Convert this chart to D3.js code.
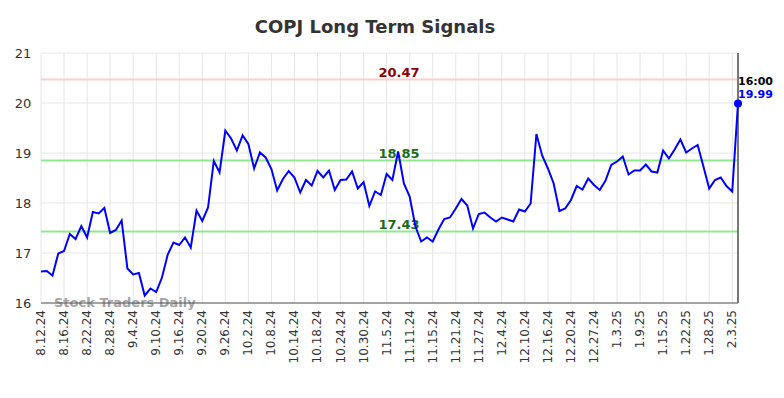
<!DOCTYPE html>
<html>
<head>
<meta charset="utf-8">
<script src="https://cdn.jsdelivr.net/npm/d3@7"></script>
<style>
body { margin: 0; background: #fff; }
svg { font-family: "DejaVu Sans", sans-serif; }
</style>
</head>
<body>
<svg width="784" height="398"></svg>
<script>
let tick_labels = ["8.12.24","8.16.24","8.22.24","8.28.24","9.4.24","9.10.24","9.16.24","9.20.24","9.26.24","10.2.24",
    "10.8.24","10.14.24","10.18.24","10.24.24","10.30.24","11.5.24","11.11.24","11.15.24","11.21.24","11.27.24",
    "12.4.24","12.10.24","12.16.24","12.20.24","12.27.24","1.3.25","1.9.25","1.15.25","1.22.25","1.28.25","2.3.25"]
let tick_step = 4
let prices = [16.63,16.64,16.55,16.99,17.04,17.38,17.28,17.54,17.31,17.82,
    17.79,17.90,17.40,17.46,17.65,16.69,16.57,16.60,16.15,16.29,
    16.22,16.51,16.97,17.21,17.16,17.31,17.11,17.85,17.64,17.91,
    18.84,18.61,19.45,19.29,19.05,19.35,19.18,18.69,19.01,18.91,
    18.68,18.25,18.48,18.64,18.51,18.21,18.46,18.35,18.64,18.51,
    18.65,18.26,18.46,18.47,18.63,18.29,18.42,17.94,18.23,18.16,
    18.58,18.46,19.03,18.39,18.13,17.53,17.23,17.31,17.23,17.47,
    17.68,17.71,17.89,18.08,17.95,17.49,17.78,17.81,17.71,17.63,
    17.71,17.67,17.63,17.87,17.83,17.99,19.38,18.95,18.69,18.39,
    17.84,17.89,18.06,18.34,18.27,18.49,18.36,18.26,18.45,18.76,
    18.83,18.93,18.57,18.65,18.65,18.77,18.63,18.61,19.05,18.89,
    19.07,19.27,19.01,19.09,19.16,18.73,18.29,18.46,18.51,18.34,
    18.23,19.99]
let y_ticks = [16,17,18,19,20,21]
let levels = [
    {value: 20.47, line: "#ffcccc", text: "#8b0000"},
    {value: 18.85, line: "#90e890", text: "#1a6e1a"},
    {value: 17.43, line: "#90e890", text: "#1a6e1a"}
]
let last_time = "16:00"

let svg = d3.select("svg")
let plot_left = 41, plot_right = 738, plot_top = 53, plot_bottom = 303

let x = d3.scaleLinear().domain([0, prices.length - 1]).range([plot_left, plot_right])
let y = d3.scaleLinear().domain([16, 21]).range([plot_bottom, plot_top])
let tick_idx = tick_labels.map((d, i) => i * tick_step)

// title
svg.append("text")
    .attr("x", 375).attr("y", 33)
    .attr("text-anchor", "middle")
    .attr("font-size", 18).attr("font-weight", "bold")
    .attr("fill", "#333")
    .text("COPJ Long Term Signals")

// grid
svg.append("g").selectAll("line")
    .data(tick_idx)
    .join("line")
    .attr("x1", d => x(d)).attr("x2", d => x(d))
    .attr("y1", plot_top).attr("y2", plot_bottom)
    .attr("stroke", "#e6e6e6").attr("stroke-width", 1)

svg.append("g").selectAll("line")
    .data(y_ticks)
    .join("line")
    .attr("x1", plot_left).attr("x2", plot_right)
    .attr("y1", d => y(d)).attr("y2", d => y(d))
    .attr("stroke", "#e6e6e6").attr("stroke-width", 1)

// y labels
svg.append("g").selectAll("text")
    .data(y_ticks)
    .join("text")
    .attr("x", 23).attr("y", d => y(d) + 5)
    .attr("text-anchor", "middle")
    .attr("font-size", 13).attr("fill", "#333")
    .text(d => d)

// x labels
svg.append("g").selectAll("text")
    .data(tick_idx)
    .join("text")
    .attr("transform", d => "translate(" + (x(d) + 4) + ",310) rotate(-90)")
    .attr("text-anchor", "end")
    .attr("font-size", 12).attr("fill", "#333")
    .text((d, i) => tick_labels[i])

// watermark
svg.append("text")
    .attr("x", 54).attr("y", 307)
    .attr("font-size", 13).attr("font-weight", "bold")
    .attr("fill", "#999").attr("fill-opacity", 0.9)
    .text("Stock Traders Daily")

// levels
levels.forEach(function(l) {
    svg.append("line")
        .attr("x1", plot_left).attr("x2", plot_right)
        .attr("y1", y(l.value)).attr("y2", y(l.value))
        .attr("stroke", l.line).attr("stroke-width", 2)
    svg.append("text")
        .attr("x", 399).attr("y", y(l.value) - 3)
        .attr("text-anchor", "middle")
        .attr("font-size", 13).attr("font-weight", "bold")
        .attr("fill", l.text)
        .text(l.value.toFixed(2))
})

// axis lines
svg.append("line")
    .attr("x1", plot_left).attr("x2", plot_right)
    .attr("y1", plot_bottom).attr("y2", plot_bottom)
    .attr("stroke", "#555").attr("stroke-width", 1)
svg.append("line")
    .attr("x1", x(prices.length - 1)).attr("x2", x(prices.length - 1))
    .attr("y1", plot_top).attr("y2", plot_bottom)
    .attr("stroke", "#777").attr("stroke-width", 2)

// price line
let line = d3.line().x((d, i) => x(i)).y(d => y(d))
svg.append("path")
    .datum(prices)
    .attr("d", line)
    .attr("fill", "none")
    .attr("stroke", "#0000ff").attr("stroke-width", 2)

let last = prices.length - 1
svg.append("circle")
    .attr("cx", x(last)).attr("cy", y(prices[last]))
    .attr("r", 4).attr("fill", "#0000ff")

svg.append("text")
    .attr("x", x(last)).attr("y", 85)
    .attr("font-size", 11).attr("font-weight", "bold")
    .attr("fill", "#000")
    .text(last_time)
svg.append("text")
    .attr("x", x(last)).attr("y", 98)
    .attr("font-size", 11).attr("font-weight", "bold")
    .attr("fill", "#0000ff")
    .text(prices[last].toFixed(2))
</script>
</body>
</html>
